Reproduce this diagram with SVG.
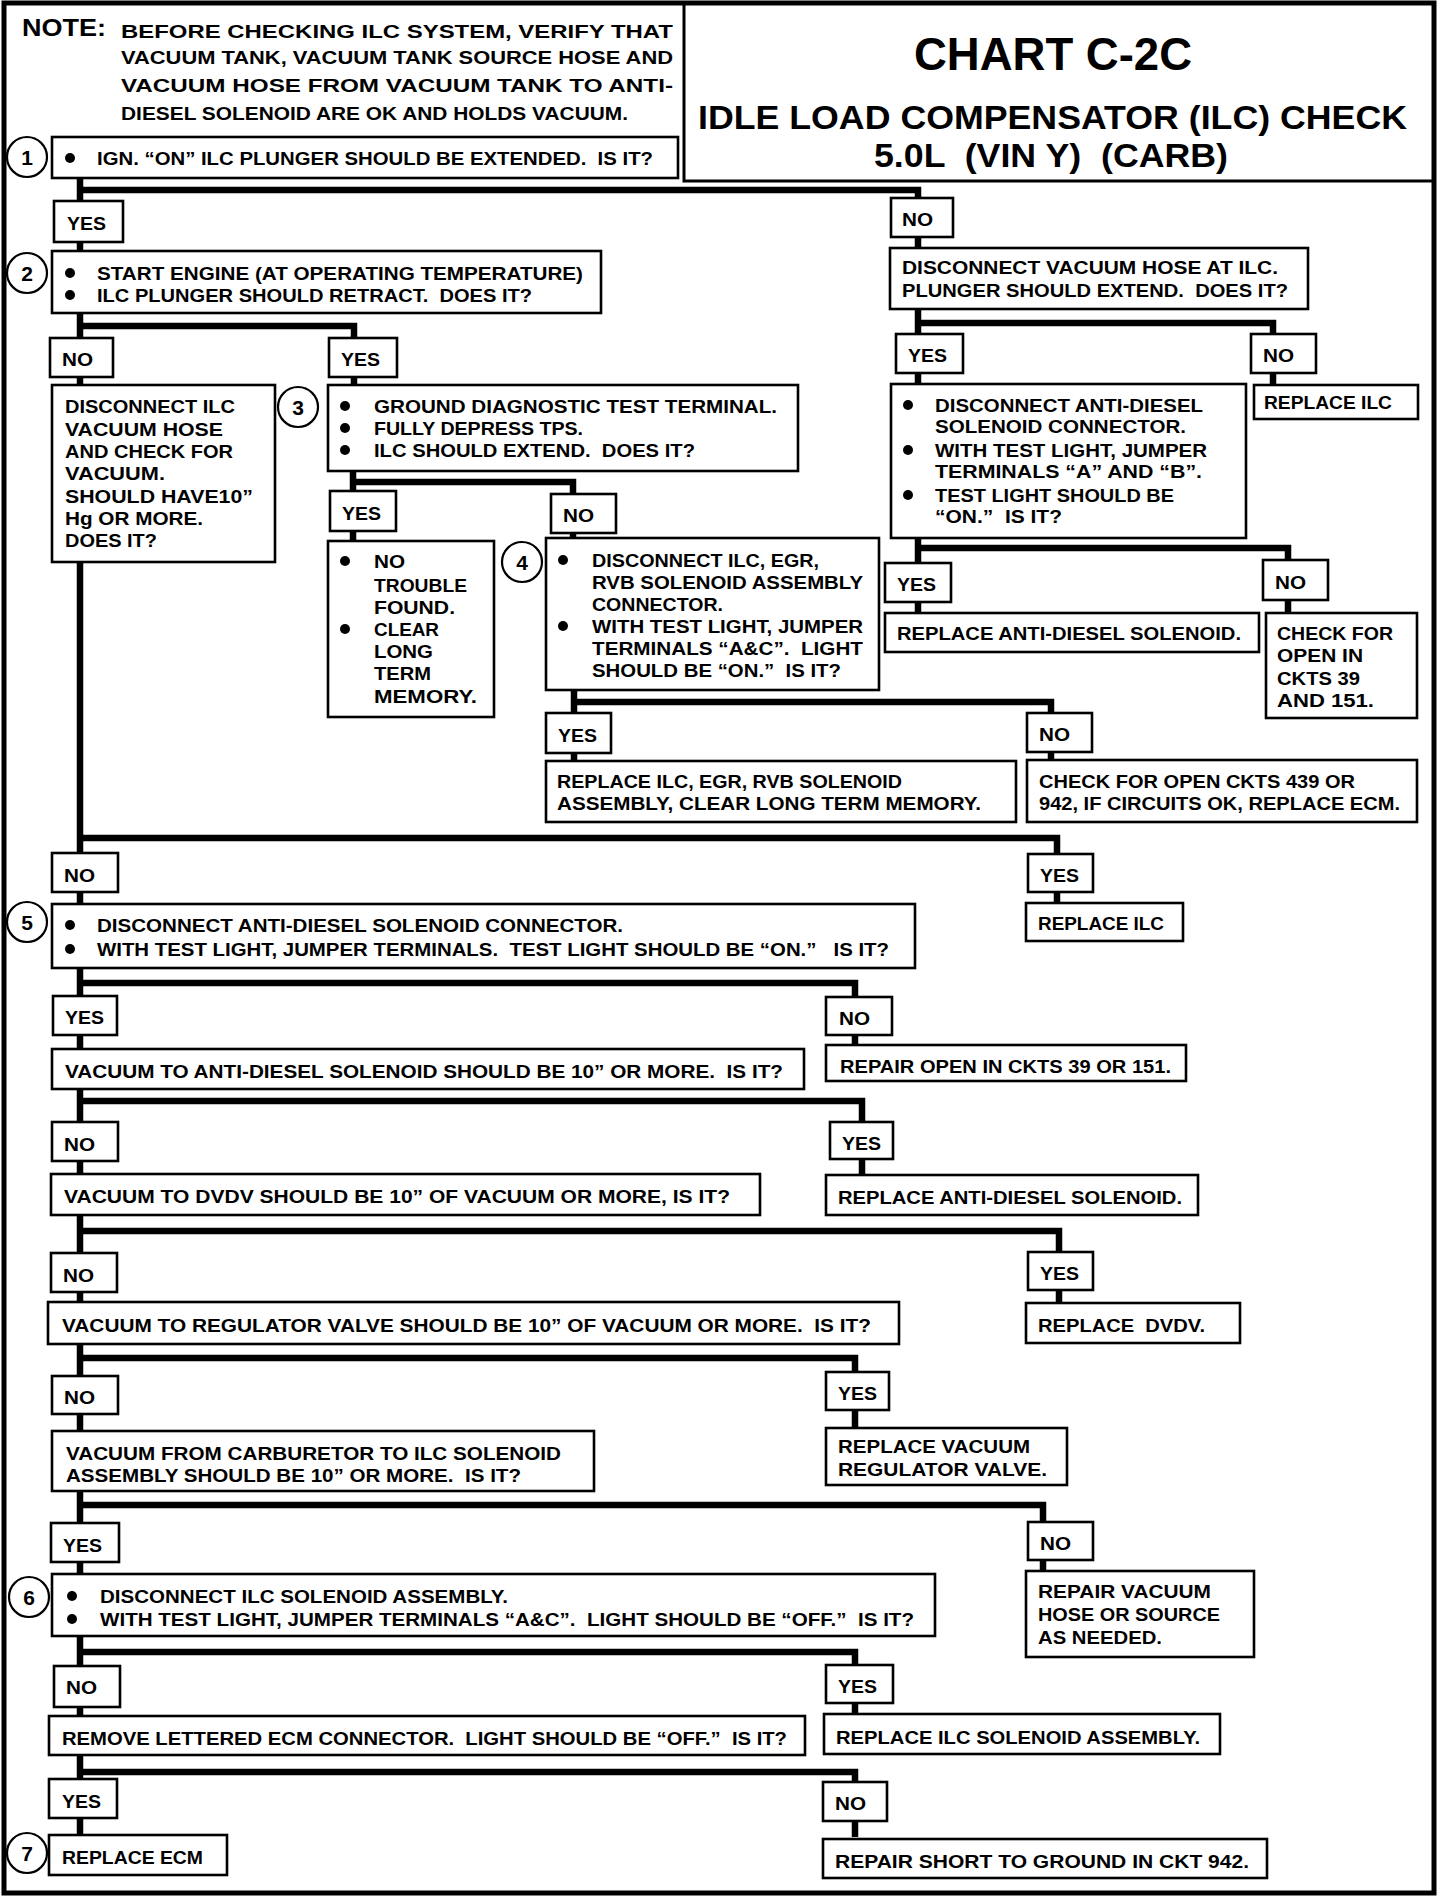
<svg xmlns="http://www.w3.org/2000/svg" width="1456" height="1900" viewBox="0 0 1456 1900" xml:space="preserve">
<style>
text{white-space:pre}
.bg{fill:#fff}
.box{fill:#fff;stroke:#000;stroke-width:2.6}
.frame{fill:none;stroke:#000;stroke-width:5}
.conn{fill:none;stroke:#000;stroke-width:6.5;stroke-linejoin:miter}
.t{font-family:"Liberation Sans",Arial,sans-serif;font-weight:700;font-size:19px;fill:#000}
.n{font-family:"Liberation Sans",Arial,sans-serif;font-weight:700;font-size:21px;fill:#000;text-anchor:middle}
.note{font-family:"Liberation Sans",Arial,sans-serif;font-weight:700;font-size:19px;fill:#000}
.ttl{font-family:"Liberation Sans",Arial,sans-serif;font-weight:700;fill:#000}
.num{fill:#fff;stroke:#000;stroke-width:2.2}
.dot{fill:#000}
</style>
<rect class="bg" x="0" y="0" width="1456" height="1900"/>
<rect class="frame" x="4" y="3" width="1430" height="1890"/>

<g id="connectors">
<path class="conn" d="M80,178 V1835"/>
<path class="conn" d="M80,190 H918 V613"/>
<path class="conn" d="M918,323 H1273 V385"/>
<path class="conn" d="M918,548 H1288 V613"/>
<path class="conn" d="M80,326 H354 V386"/>
<path class="conn" d="M353,471 V541"/>
<path class="conn" d="M353,482 H573 V538"/>
<path class="conn" d="M574,690 V761"/>
<path class="conn" d="M574,702 H1051 V760"/>
<path class="conn" d="M80,838 H1057 V903"/>
<path class="conn" d="M80,983 H855 V1045"/>
<path class="conn" d="M80,1101 H862 V1175"/>
<path class="conn" d="M80,1231 H1059 V1303"/>
<path class="conn" d="M80,1358 H855 V1428"/>
<path class="conn" d="M80,1505 H1043 V1571"/>
<path class="conn" d="M80,1652 H855 V1713"/>
<path class="conn" d="M80,1772 H855 V1837"/>
</g>

<g id="note">
<text class="ttl" x="22" y="36" font-size="24" textLength="84" lengthAdjust="spacingAndGlyphs">NOTE:</text>
<text class="note" x="121" y="38" textLength="552" lengthAdjust="spacingAndGlyphs">BEFORE CHECKING ILC SYSTEM, VERIFY THAT</text>
<text class="note" x="121" y="64" textLength="552" lengthAdjust="spacingAndGlyphs">VACUUM TANK, VACUUM TANK SOURCE HOSE AND</text>
<text class="note" x="121" y="92" textLength="552" lengthAdjust="spacingAndGlyphs">VACUUM HOSE FROM VACUUM TANK TO ANTI-</text>
<text class="note" x="121" y="120" textLength="507" lengthAdjust="spacingAndGlyphs">DIESEL SOLENOID ARE OK AND HOLDS VACUUM.</text>
</g>

<g id="title">
<rect x="684" y="3" width="750" height="178" fill="none" stroke="#000" stroke-width="3"/>
<text class="ttl" x="914" y="70" font-size="46" textLength="278" lengthAdjust="spacingAndGlyphs">CHART C-2C</text>
<text class="ttl" x="698" y="129" font-size="34" textLength="709" lengthAdjust="spacingAndGlyphs">IDLE LOAD COMPENSATOR (ILC) CHECK</text>
<text class="ttl" x="874" y="167" font-size="34" textLength="354" lengthAdjust="spacingAndGlyphs">5.0L  (VIN Y)  (CARB)</text>
</g>

<g id="step1">
<circle class="num" cx="27" cy="157" r="20"/><text class="n" x="27" y="165">1</text>
<rect class="box" x="52" y="137" width="626" height="41"/>
<circle class="dot" cx="70" cy="158" r="5"/>
<text class="t" x="97" y="165" textLength="556" lengthAdjust="spacingAndGlyphs">IGN. “ON” ILC PLUNGER SHOULD BE EXTENDED.  IS IT?</text>
</g>

<g id="yes1"><rect class="box" x="54" y="201" width="69" height="41"/><text class="t" x="67" y="230" textLength="39" lengthAdjust="spacingAndGlyphs">YES</text></g>

<g id="step2">
<circle class="num" cx="27" cy="273" r="20"/><text class="n" x="27" y="281">2</text>
<rect class="box" x="52" y="251" width="549" height="62"/>
<circle class="dot" cx="70" cy="273" r="5"/>
<circle class="dot" cx="70" cy="295" r="5"/>
<text class="t" x="97" y="280" textLength="486" lengthAdjust="spacingAndGlyphs">START ENGINE (AT OPERATING TEMPERATURE)</text>
<text class="t" x="97" y="302" textLength="435" lengthAdjust="spacingAndGlyphs">ILC PLUNGER SHOULD RETRACT.  DOES IT?</text>
</g>

<g id="no1r"><rect class="box" x="891" y="198" width="62" height="39"/><text class="t" x="902" y="226" textLength="31" lengthAdjust="spacingAndGlyphs">NO</text></g>

<g id="vachose">
<rect class="box" x="890" y="248" width="418" height="61"/>
<text class="t" x="902" y="274" textLength="376" lengthAdjust="spacingAndGlyphs">DISCONNECT VACUUM HOSE AT ILC.</text>
<text class="t" x="902" y="297" textLength="386" lengthAdjust="spacingAndGlyphs">PLUNGER SHOULD EXTEND.  DOES IT?</text>
</g>

<g id="no2"><rect class="box" x="50" y="338" width="63" height="39"/><text class="t" x="62" y="366" textLength="31" lengthAdjust="spacingAndGlyphs">NO</text></g>
<g id="yes2"><rect class="box" x="329" y="338" width="68" height="39"/><text class="t" x="341" y="366" textLength="39" lengthAdjust="spacingAndGlyphs">YES</text></g>
<g id="yesr2"><rect class="box" x="896" y="334" width="67" height="39"/><text class="t" x="908" y="362" textLength="39" lengthAdjust="spacingAndGlyphs">YES</text></g>
<g id="nor2"><rect class="box" x="1251" y="334" width="65" height="39"/><text class="t" x="1263" y="362" textLength="31" lengthAdjust="spacingAndGlyphs">NO</text></g>

<g id="replilc1">
<rect class="box" x="1254" y="385" width="164" height="34"/>
<text class="t" x="1264" y="409" textLength="128" lengthAdjust="spacingAndGlyphs">REPLACE ILC</text>
</g>

<g id="discilc">
<rect class="box" x="52" y="385" width="223" height="177"/>
<text class="t" x="65" y="413" textLength="170" lengthAdjust="spacingAndGlyphs">DISCONNECT ILC</text>
<text class="t" x="65" y="436" textLength="158" lengthAdjust="spacingAndGlyphs">VACUUM HOSE</text>
<text class="t" x="65" y="458" textLength="168" lengthAdjust="spacingAndGlyphs">AND CHECK FOR</text>
<text class="t" x="65" y="480" textLength="100" lengthAdjust="spacingAndGlyphs">VACUUM.</text>
<text class="t" x="65" y="503" textLength="188" lengthAdjust="spacingAndGlyphs">SHOULD HAVE10”</text>
<text class="t" x="65" y="525" textLength="138" lengthAdjust="spacingAndGlyphs">Hg OR MORE.</text>
<text class="t" x="65" y="547" textLength="92" lengthAdjust="spacingAndGlyphs">DOES IT?</text>
</g>

<g id="step3">
<circle class="num" cx="298" cy="407" r="20"/><text class="n" x="298" y="415">3</text>
<rect class="box" x="328" y="385" width="470" height="86"/>
<circle class="dot" cx="345" cy="406" r="5"/>
<circle class="dot" cx="345" cy="428" r="5"/>
<circle class="dot" cx="345" cy="450" r="5"/>
<text class="t" x="374" y="413" textLength="403" lengthAdjust="spacingAndGlyphs">GROUND DIAGNOSTIC TEST TERMINAL.</text>
<text class="t" x="374" y="435" textLength="209" lengthAdjust="spacingAndGlyphs">FULLY DEPRESS TPS.</text>
<text class="t" x="374" y="457" textLength="321" lengthAdjust="spacingAndGlyphs">ILC SHOULD EXTEND.  DOES IT?</text>
</g>

<g id="antidiesel1">
<rect class="box" x="891" y="384" width="355" height="154"/>
<circle class="dot" cx="908" cy="405" r="5"/>
<circle class="dot" cx="908" cy="450" r="5"/>
<circle class="dot" cx="908" cy="495" r="5"/>
<text class="t" x="935" y="412" textLength="268" lengthAdjust="spacingAndGlyphs">DISCONNECT ANTI-DIESEL</text>
<text class="t" x="935" y="433" textLength="251" lengthAdjust="spacingAndGlyphs">SOLENOID CONNECTOR.</text>
<text class="t" x="935" y="457" textLength="272" lengthAdjust="spacingAndGlyphs">WITH TEST LIGHT, JUMPER</text>
<text class="t" x="935" y="478" textLength="267" lengthAdjust="spacingAndGlyphs">TERMINALS “A” AND “B”.</text>
<text class="t" x="935" y="502" textLength="239" lengthAdjust="spacingAndGlyphs">TEST LIGHT SHOULD BE</text>
<text class="t" x="935" y="523" textLength="127" lengthAdjust="spacingAndGlyphs">“ON.”  IS IT?</text>
</g>

<g id="yes3"><rect class="box" x="330" y="491" width="66" height="40"/><text class="t" x="342" y="520" textLength="39" lengthAdjust="spacingAndGlyphs">YES</text></g>
<g id="no3"><rect class="box" x="551" y="494" width="65" height="39"/><text class="t" x="563" y="522" textLength="31" lengthAdjust="spacingAndGlyphs">NO</text></g>

<g id="notrouble">
<rect class="box" x="328" y="541" width="166" height="176"/>
<circle class="dot" cx="345" cy="561" r="5"/>
<circle class="dot" cx="345" cy="629" r="5"/>
<text class="t" x="374" y="568" textLength="31" lengthAdjust="spacingAndGlyphs">NO</text>
<text class="t" x="374" y="592" textLength="93" lengthAdjust="spacingAndGlyphs">TROUBLE</text>
<text class="t" x="374" y="614" textLength="81" lengthAdjust="spacingAndGlyphs">FOUND.</text>
<text class="t" x="374" y="636" textLength="65" lengthAdjust="spacingAndGlyphs">CLEAR</text>
<text class="t" x="374" y="658" textLength="59" lengthAdjust="spacingAndGlyphs">LONG</text>
<text class="t" x="374" y="680" textLength="57" lengthAdjust="spacingAndGlyphs">TERM</text>
<text class="t" x="374" y="703" textLength="103" lengthAdjust="spacingAndGlyphs">MEMORY.</text>
</g>

<g id="step4">
<circle class="num" cx="522" cy="562" r="20"/><text class="n" x="522" y="570">4</text>
<rect class="box" x="546" y="538" width="333" height="152"/>
<circle class="dot" cx="563" cy="560" r="5"/>
<circle class="dot" cx="563" cy="626" r="5"/>
<text class="t" x="592" y="567" textLength="227" lengthAdjust="spacingAndGlyphs">DISCONNECT ILC, EGR,</text>
<text class="t" x="592" y="589" textLength="271" lengthAdjust="spacingAndGlyphs">RVB SOLENOID ASSEMBLY</text>
<text class="t" x="592" y="611" textLength="131" lengthAdjust="spacingAndGlyphs">CONNECTOR.</text>
<text class="t" x="592" y="633" textLength="271" lengthAdjust="spacingAndGlyphs">WITH TEST LIGHT, JUMPER</text>
<text class="t" x="592" y="655" textLength="271" lengthAdjust="spacingAndGlyphs">TERMINALS “A&amp;C”.  LIGHT</text>
<text class="t" x="592" y="677" textLength="249" lengthAdjust="spacingAndGlyphs">SHOULD BE “ON.”  IS IT?</text>
</g>

<g id="yesr3"><rect class="box" x="885" y="563" width="66" height="39"/><text class="t" x="897" y="591" textLength="39" lengthAdjust="spacingAndGlyphs">YES</text></g>
<g id="nor3"><rect class="box" x="1263" y="560" width="65" height="40"/><text class="t" x="1275" y="589" textLength="31" lengthAdjust="spacingAndGlyphs">NO</text></g>

<g id="repladsol1">
<rect class="box" x="885" y="613" width="374" height="39"/>
<text class="t" x="897" y="640" textLength="344" lengthAdjust="spacingAndGlyphs">REPLACE ANTI-DIESEL SOLENOID.</text>
</g>

<g id="chkopen1">
<rect class="box" x="1266" y="613" width="151" height="105"/>
<text class="t" x="1277" y="640" textLength="116" lengthAdjust="spacingAndGlyphs">CHECK FOR</text>
<text class="t" x="1277" y="662" textLength="86" lengthAdjust="spacingAndGlyphs">OPEN IN</text>
<text class="t" x="1277" y="685" textLength="83" lengthAdjust="spacingAndGlyphs">CKTS 39</text>
<text class="t" x="1277" y="707" textLength="97" lengthAdjust="spacingAndGlyphs">AND 151.</text>
</g>

<g id="yes4"><rect class="box" x="546" y="713" width="65" height="40"/><text class="t" x="558" y="742" textLength="39" lengthAdjust="spacingAndGlyphs">YES</text></g>
<g id="no4"><rect class="box" x="1027" y="713" width="65" height="39"/><text class="t" x="1039" y="741" textLength="31" lengthAdjust="spacingAndGlyphs">NO</text></g>

<g id="replegr">
<rect class="box" x="546" y="761" width="470" height="61"/>
<text class="t" x="557" y="788" textLength="345" lengthAdjust="spacingAndGlyphs">REPLACE ILC, EGR, RVB SOLENOID</text>
<text class="t" x="557" y="810" textLength="424" lengthAdjust="spacingAndGlyphs">ASSEMBLY, CLEAR LONG TERM MEMORY.</text>
</g>

<g id="chkopen2">
<rect class="box" x="1027" y="760" width="390" height="62"/>
<text class="t" x="1039" y="788" textLength="316" lengthAdjust="spacingAndGlyphs">CHECK FOR OPEN CKTS 439 OR</text>
<text class="t" x="1039" y="810" textLength="361" lengthAdjust="spacingAndGlyphs">942, IF CIRCUITS OK, REPLACE ECM.</text>
</g>

<g id="no5"><rect class="box" x="52" y="853" width="66" height="39"/><text class="t" x="64" y="882" textLength="31" lengthAdjust="spacingAndGlyphs">NO</text></g>
<g id="yes5"><rect class="box" x="1028" y="854" width="65" height="38"/><text class="t" x="1040" y="882" textLength="39" lengthAdjust="spacingAndGlyphs">YES</text></g>

<g id="replilc2">
<rect class="box" x="1026" y="903" width="157" height="38"/>
<text class="t" x="1038" y="930" textLength="126" lengthAdjust="spacingAndGlyphs">REPLACE ILC</text>
</g>

<g id="step5">
<circle class="num" cx="27" cy="922" r="20"/><text class="n" x="27" y="930">5</text>
<rect class="box" x="52" y="904" width="863" height="64"/>
<circle class="dot" cx="70" cy="925" r="5"/>
<circle class="dot" cx="70" cy="949" r="5"/>
<text class="t" x="97" y="932" textLength="526" lengthAdjust="spacingAndGlyphs">DISCONNECT ANTI-DIESEL SOLENOID CONNECTOR.</text>
<text class="t" x="97" y="956" textLength="792" lengthAdjust="spacingAndGlyphs">WITH TEST LIGHT, JUMPER TERMINALS.  TEST LIGHT SHOULD BE “ON.”   IS IT?</text>
</g>

<g id="yes6"><rect class="box" x="53" y="996" width="64" height="39"/><text class="t" x="65" y="1024" textLength="39" lengthAdjust="spacingAndGlyphs">YES</text></g>
<g id="no6"><rect class="box" x="826" y="997" width="66" height="38"/><text class="t" x="839" y="1025" textLength="31" lengthAdjust="spacingAndGlyphs">NO</text></g>

<g id="vacad">
<rect class="box" x="52" y="1049" width="752" height="40"/>
<text class="t" x="65" y="1078" textLength="718" lengthAdjust="spacingAndGlyphs">VACUUM TO ANTI-DIESEL SOLENOID SHOULD BE 10” OR MORE.  IS IT?</text>
</g>

<g id="repopen">
<rect class="box" x="826" y="1045" width="360" height="36"/>
<text class="t" x="840" y="1073" textLength="331" lengthAdjust="spacingAndGlyphs">REPAIR OPEN IN CKTS 39 OR 151.</text>
</g>

<g id="no7"><rect class="box" x="52" y="1122" width="66" height="39"/><text class="t" x="64" y="1151" textLength="31" lengthAdjust="spacingAndGlyphs">NO</text></g>
<g id="yes7"><rect class="box" x="830" y="1122" width="63" height="37"/><text class="t" x="842" y="1150" textLength="39" lengthAdjust="spacingAndGlyphs">YES</text></g>

<g id="vacdvdv">
<rect class="box" x="51" y="1174" width="709" height="41"/>
<text class="t" x="64" y="1203" textLength="666" lengthAdjust="spacingAndGlyphs">VACUUM TO DVDV SHOULD BE 10” OF VACUUM OR MORE, IS IT?</text>
</g>

<g id="repladsol2">
<rect class="box" x="826" y="1175" width="372" height="40"/>
<text class="t" x="838" y="1204" textLength="344" lengthAdjust="spacingAndGlyphs">REPLACE ANTI-DIESEL SOLENOID.</text>
</g>

<g id="no8"><rect class="box" x="51" y="1253" width="66" height="39"/><text class="t" x="63" y="1282" textLength="31" lengthAdjust="spacingAndGlyphs">NO</text></g>
<g id="yes8"><rect class="box" x="1028" y="1252" width="65" height="38"/><text class="t" x="1040" y="1280" textLength="39" lengthAdjust="spacingAndGlyphs">YES</text></g>

<g id="vacreg">
<rect class="box" x="48" y="1302" width="851" height="42"/>
<text class="t" x="62" y="1332" textLength="809" lengthAdjust="spacingAndGlyphs">VACUUM TO REGULATOR VALVE SHOULD BE 10” OF VACUUM OR MORE.  IS IT?</text>
</g>

<g id="repldvdv">
<rect class="box" x="1026" y="1303" width="214" height="40"/>
<text class="t" x="1038" y="1332" textLength="167" lengthAdjust="spacingAndGlyphs">REPLACE  DVDV.</text>
</g>

<g id="no9"><rect class="box" x="52" y="1376" width="66" height="38"/><text class="t" x="64" y="1404" textLength="31" lengthAdjust="spacingAndGlyphs">NO</text></g>
<g id="yes9"><rect class="box" x="826" y="1372" width="63" height="38"/><text class="t" x="838" y="1400" textLength="39" lengthAdjust="spacingAndGlyphs">YES</text></g>

<g id="vaccarb">
<rect class="box" x="52" y="1431" width="542" height="60"/>
<text class="t" x="66" y="1460" textLength="495" lengthAdjust="spacingAndGlyphs">VACUUM FROM CARBURETOR TO ILC SOLENOID</text>
<text class="t" x="66" y="1482" textLength="455" lengthAdjust="spacingAndGlyphs">ASSEMBLY SHOULD BE 10” OR MORE.  IS IT?</text>
</g>

<g id="replreg">
<rect class="box" x="826" y="1428" width="241" height="57"/>
<text class="t" x="838" y="1453" textLength="192" lengthAdjust="spacingAndGlyphs">REPLACE VACUUM</text>
<text class="t" x="838" y="1476" textLength="209" lengthAdjust="spacingAndGlyphs">REGULATOR VALVE.</text>
</g>

<g id="yes10"><rect class="box" x="51" y="1523" width="68" height="39"/><text class="t" x="63" y="1552" textLength="39" lengthAdjust="spacingAndGlyphs">YES</text></g>
<g id="no10"><rect class="box" x="1028" y="1522" width="65" height="38"/><text class="t" x="1040" y="1550" textLength="31" lengthAdjust="spacingAndGlyphs">NO</text></g>

<g id="step6">
<circle class="num" cx="29" cy="1597" r="20"/><text class="n" x="29" y="1605">6</text>
<rect class="box" x="52" y="1574" width="883" height="62"/>
<circle class="dot" cx="72" cy="1596" r="5"/>
<circle class="dot" cx="72" cy="1619" r="5"/>
<text class="t" x="100" y="1603" textLength="408" lengthAdjust="spacingAndGlyphs">DISCONNECT ILC SOLENOID ASSEMBLY.</text>
<text class="t" x="100" y="1626" textLength="814" lengthAdjust="spacingAndGlyphs">WITH TEST LIGHT, JUMPER TERMINALS “A&amp;C”.  LIGHT SHOULD BE “OFF.”  IS IT?</text>
</g>

<g id="repvac">
<rect class="box" x="1026" y="1571" width="228" height="86"/>
<text class="t" x="1038" y="1598" textLength="173" lengthAdjust="spacingAndGlyphs">REPAIR VACUUM</text>
<text class="t" x="1038" y="1621" textLength="182" lengthAdjust="spacingAndGlyphs">HOSE OR SOURCE</text>
<text class="t" x="1038" y="1644" textLength="124" lengthAdjust="spacingAndGlyphs">AS NEEDED.</text>
</g>

<g id="no11"><rect class="box" x="54" y="1666" width="66" height="41"/><text class="t" x="66" y="1694" textLength="31" lengthAdjust="spacingAndGlyphs">NO</text></g>
<g id="yes11"><rect class="box" x="826" y="1665" width="67" height="38"/><text class="t" x="838" y="1693" textLength="39" lengthAdjust="spacingAndGlyphs">YES</text></g>

<g id="remove">
<rect class="box" x="49" y="1716" width="756" height="39"/>
<text class="t" x="62" y="1745" textLength="725" lengthAdjust="spacingAndGlyphs">REMOVE LETTERED ECM CONNECTOR.  LIGHT SHOULD BE “OFF.”  IS IT?</text>
</g>

<g id="replsolasm">
<rect class="box" x="824" y="1714" width="396" height="40"/>
<text class="t" x="836" y="1744" textLength="364" lengthAdjust="spacingAndGlyphs">REPLACE ILC SOLENOID ASSEMBLY.</text>
</g>

<g id="yes12"><rect class="box" x="49" y="1779" width="68" height="39"/><text class="t" x="62" y="1808" textLength="39" lengthAdjust="spacingAndGlyphs">YES</text></g>
<g id="no12"><rect class="box" x="823" y="1782" width="64" height="39"/><text class="t" x="835" y="1810" textLength="31" lengthAdjust="spacingAndGlyphs">NO</text></g>

<g id="step7">
<circle class="num" cx="27" cy="1853" r="20"/><text class="n" x="27" y="1861">7</text>
<rect class="box" x="49" y="1835" width="178" height="40"/>
<text class="t" x="62" y="1864" textLength="141" lengthAdjust="spacingAndGlyphs">REPLACE ECM</text>
</g>

<g id="repshort">
<rect class="box" x="823" y="1839" width="444" height="39"/>
<text class="t" x="835" y="1868" textLength="414" lengthAdjust="spacingAndGlyphs">REPAIR SHORT TO GROUND IN CKT 942.</text>
</g>
</svg>
